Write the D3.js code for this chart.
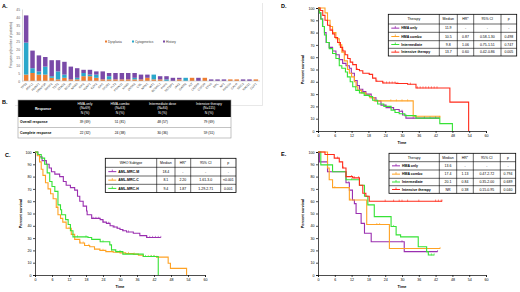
<!DOCTYPE html>
<html>
<head>
<meta charset="utf-8">
<script src="https://cdn.jsdelivr.net/npm/d3@7"></script>
<style>
  body { margin: 0; background: #fff; }
  svg { font-family: "Liberation Sans", Arial, sans-serif; display: block; }
</style>
</head>
<body>
<div id="chart"></div>
<script>
// ---------- data : panel A ----------
const genes = ["TP53","ASXL1","RUNX1","DNMT3A","SRSF2","TET2","STAG2","BCOR","NRAS","IDH2","U2AF1","EZH2","IDH1","SF3B1","FLT3","PTPN11","KRAS","ZRSR2","CBL","NPM1","WT1","BCORL1","PHF6","SETBP1","JAK2","GATA2","KIT","CEBPA","CSF3R","ETV6","MPL","NF1","PPM1D","CALR","SMC3","RAD21","CUX1"];
const dysplasia    = [4,5,4,4,2,1,2,1,1,3,3,2,1,1,1,1,1,1,1,2,1,1,0,0,1,0,2,0,2,0,0,0,1,1,0,0,1];
const cytogenetics = [20,3,2,5,1,5,2,0,1,2,1,2,0,2,0,0,0,1,0,0,3,0,1,0,0,2,0,0,0,0,0,0,0,0,0,0,0];
const history      = [17,11,10,6,10,7,8,8,6,2,3,2,5,2,4,4,4,3,3,2,0,2,2,2,1,0,0,2,0,1,1,1,0,0,1,1,0];
const stackKeys = ["Dysplasia","Cytogenetics","History"];
const yTicksA = d3.range(0, 46, 5);

// ---------- data : panel B ----------
const respHeader = ["Response", "HMA-only\n(N=69)\nN (%)", "HMA-combo\n(N=63)\nN (%)", "Intermediate dose\n(N=84)\nN (%)", "Intensive therapy\n(N=115)\nN (%)"];
const overallResp  = ["Overall response", "39 (69)", "51 (81)", "48 (57)", "79 (69)"];
const completeResp = ["Complete response", "22 (32)", "24 (38)", "30 (36)", "59 (51)"];

// ---------- data : KM curves, [months, % surviving] ----------
const kmTicksX = d3.range(0, 61, 6);
const kmTicksY = d3.range(0, 101, 10);

const mrcM = [[0,100],[1,98],[1.6,96],[2.5,93],[4,90],[5,87],[5.8,84],[7,82],[8.7,80],[10,76],[11,73],[12.5,71],[14,69],[15,64],[15.8,60],[17,56],[18.2,52],[18.4,49],[20,46],[23,45],[24,43],[25.2,42],[26.5,40],[27.6,39],[29,38],[30,37],[31,36],[32.3,35],[34.7,34],[37,32],[39.4,30.5],[44.4,30.5]];
const mrcC = [[0,100],[0.8,97],[1.6,92],[2.2,86],[2.8,81],[3.7,75],[4.6,70],[5.5,66],[6.4,62],[7.5,55],[8.1,49],[9,46],[9.8,43],[11,38],[12.8,33],[14,29],[15.8,26],[17.5,24],[19.3,23],[21,21],[22.9,20],[25,19],[27.6,18.5],[30,18],[32,17.5],[34.7,17],[36.5,16],[38.2,15],[42.9,14.5],[47,9.5],[47.8,5.4],[53.5,0]];
const mrcH = [[0,100],[1,98],[2.2,95],[3.4,90],[4.3,83],[5.2,76],[6,72],[7,68],[8.1,57],[9,53],[9.4,49],[10.8,45],[11.7,41],[12.5,36],[13.4,31],[18.7,30.5],[20,29],[23,27],[26.4,24.5],[27,20.4],[28.5,19],[31,17],[38.2,15],[43.5,0]];
const censorM = [20.5,21.5,22.5,24,26,28,29,31,33,39.5,40.5,41.5,42.5,43.5,44.4];
const censorC = [8,12,16,17,19,21,24,27,29,31,33,35,40,41,42,43];
const censorH = [15,18,24,30,39,41,42];

const hmaOnlyD = [[0,100],[0.5,96],[1,91],[1.7,85],[2.3,80],[2.9,72],[4,68],[5.2,65],[6.4,62],[7.6,58],[8.8,55],[10,53],[11.2,51],[11.9,47],[13,41],[14,37],[14.8,34],[16,32],[17.1,30],[19,27],[20.7,24.5],[22.5,21],[24.3,19],[27,17.5],[29,16],[30.2,13],[31.4,10.5],[43.3,10.5]];
const hmaComboD = [[0,100],[2.5,96],[3.4,90],[4.3,85],[5.2,80],[6.4,75],[7.6,70],[8.5,64],[9.4,57],[10.5,50],[11.2,47],[12,44],[13,40],[13.6,36],[14.2,33],[15.5,31],[17.1,29],[18.5,27],[20.1,24.5],[34,12],[43.5,11]];
const intermediateD = [[0,100],[0.5,96],[1,91],[1.6,85],[2.3,78],[3,72],[4,67],[5.2,63],[6.4,59],[7.6,53],[8.5,51],[9.8,48],[10.5,44],[11.5,40],[12.4,36],[13.5,33],[14.8,31],[16.5,29],[18.3,28],[19.5,25],[21.3,22],[23.5,20],[26.1,17],[27.5,15],[29,14],[31,12.5],[35,10.5],[43.5,6],[48,0]];
const intensiveD = [[0,100],[0.8,98],[1.7,94],[2.5,90],[3.4,86],[4.3,82],[5.2,79],[6,76],[7,72],[8,68],[8.8,65],[9.7,62],[10.6,59],[11.5,56],[12.4,54],[13.7,50],[14.8,49],[16,47],[18.3,46],[19.5,43],[20.7,40.5],[23.1,39],[27.9,38.6],[32,38],[35,35],[47.1,23.5],[53.8,0]];
const censorHmaOnlyD = [26,30,34,38,42,43.3];
const censorHmaComboD = [26,28,30,32,43.5];
const censorInterD = [38,40,42];
const censorIntensiveD = [5,9,14,21,23.5,24.5,25.5,26.5,27.5,28.5,33,35.5,36.5,37.5,38.5,39.5,40.5,41.5,42.5];

const hmaOnlyE = [[0,100],[0.5,92],[3.4,84],[10,75],[11.2,69],[12.3,61],[13,58],[13.6,50],[15.4,42],[16.6,34],[19,27],[30.8,19],[42.7,19]];
const hmaComboE = [[0,100],[3.4,87],[4,77.5],[5.2,71],[11.2,61],[17.4,41],[25.5,21.5],[43.6,21.5]];
const intermediateE = [[0,100],[1,89.5],[5.2,84],[10,77.5],[14.8,73],[16.6,64],[17.8,57],[20.1,47.5],[26.1,39.4],[27.9,32.6],[29.5,31],[35.8,23],[38.8,19],[39.4,16.3],[41.5,16.3]];
const intensiveE = [[0,100],[2.5,98],[5.8,95],[7.6,92],[8.8,87],[10,80],[12.4,79],[14.8,73],[16,66.5],[17.1,64],[18.3,60],[44.3,60]];
const censorHmaOnlyE = [11,30,42.7];
const censorHmaComboE = [6,11.5,21,22,43.6];
const censorInterE = [12,27,40.5,41.5];
const censorIntensiveE = [7,9,12,13,14.5,24,27,29,30,32,36,42,43,44,44.3];

// ---------- data : legend tables ----------
const tableHeadC = ["WHO Subtype","Median","HR*","95% CI","p"];
const rowsC = [
  ["AML-MRC-M","18.4","-","-","-"],
  ["AML-MRC-C","8.1","2.20","1.61-3.0","<0.001"],
  ["AML-MRC-H","9.4","1.87","1.29-2.71","0.001"]
];
const tableHeadDE = ["Therapy","Median","HR*","95% CI","p"];
const rowsD = [
  ["HMA only","11.9","-","-","-"],
  ["HMA combo","10.5","0.87","0.58-1.30","0.498"],
  ["Intermediate","9.8","1.06","0.75-1.51","0.747"],
  ["Intensive therapy","13.7","0.60","0.42-0.86","0.005"]
];
const rowsE = [
  ["HMA only","13.6","-","-","-"],
  ["HMA combo","17.4","1.13","0.47-2.72","0.794"],
  ["Intermediate","20.1","0.84","0.35-2.00","0.689"],
  ["Intensive therapy","NR","0.38","0.15-0.95","0.040"]
];

// ---------- colours ----------
const stackColors = ["#ED7D31", "#2BA7CB", "#7A4AA8"];
const purple = "#9A2FB0", orange = "#FFA224", green = "#36E236", red = "#FF2A1A";

const width = 520, height = 292;
const svg = d3.select("#chart").append("svg")
  .attr("width", width).attr("height", height);

function panelLabel(txt, x, y) {
  svg.append("text").attr("x", x).attr("y", y)
    .attr("font-size", 5.5).attr("font-weight", "bold").text(txt);
}

// ================= Panel A =================
{
  const gA = svg.append("g");
  // faint chart frame (right + bottom)
  gA.append("path").attr("d", "M15,105.5H262.5V3")
    .attr("fill", "none").attr("stroke", "#d9d9d9").attr("stroke-width", 0.6);

  let x = d3.scaleBand().domain(genes).range([22, 260]).padding(0.3);
  let y = d3.scaleLinear().domain([0, 45]).range([81, 9]);

  let rows = genes.map((g, i) => ({ gene: g, Dysplasia: dysplasia[i], Cytogenetics: cytogenetics[i], History: history[i] }));
  let series = d3.stack().keys(stackKeys)(rows);

  gA.append("g")
    .attr("transform", "translate(22,0)")
    .call(d3.axisLeft(y).tickValues(yTicksA).tickSize(0).tickPadding(2))
    .call(g => g.select(".domain").attr("stroke", "#bfbfbf").attr("stroke-width", 0.6))
    .call(g => g.selectAll("text").attr("font-size", 3.3).attr("fill", "#595959").attr("font-family", "Liberation Sans, Arial"));

  series.forEach((s, k) => {
    gA.append("g").attr("fill", stackColors[k])
      .selectAll("rect").data(s).join("rect")
      .attr("x", d => x(d.data.gene))
      .attr("y", d => y(d[1]))
      .attr("width", x.bandwidth())
      .attr("height", d => y(d[0]) - y(d[1]));
  });

  gA.append("line").attr("x1", 22).attr("x2", 260).attr("y1", 81).attr("y2", 81)
    .attr("stroke", "#bfbfbf").attr("stroke-width", 0.6);

  gA.append("g").selectAll("text").data(genes).join("text")
    .attr("transform", d => `translate(${x(d) + x.bandwidth() / 2 + 1},84) rotate(-45)`)
    .attr("text-anchor", "end")
    .attr("font-size", 3)
    .attr("fill", "#404040")
    .text(d => d);

  gA.append("text")
    .attr("transform", "translate(12,45) rotate(-90)")
    .attr("text-anchor", "middle").attr("font-size", 3.3).attr("fill", "#404040")
    .text("Frequency (number of patients)");

  // legend
  let legX = [105, 132, 163];
  stackKeys.forEach((k, i) => {
    gA.append("rect").attr("x", legX[i]).attr("y", 40.5).attr("width", 2).attr("height", 2).attr("fill", stackColors[i]);
    gA.append("text").attr("x", legX[i] + 3).attr("y", 42.6).attr("font-size", 3.2).attr("fill", "#404040").text(k);
  });
  panelLabel("A.", 2, 8);
}

// ================= Panel B =================
{
  const gB = svg.append("g");
  const cols = [18, 68, 102, 138, 187, 231];
  const rowY = [100, 117, 127.5, 138];
  gB.append("rect").attr("x", cols[0]).attr("y", rowY[0]).attr("width", cols[5] - cols[0]).attr("height", rowY[1] - rowY[0]).attr("fill", "#000");
  gB.append("rect").attr("x", cols[0]).attr("y", rowY[0]).attr("width", cols[5] - cols[0]).attr("height", rowY[3] - rowY[0])
    .attr("fill", "none").attr("stroke", "#9a9a9a").attr("stroke-width", 0.6);
  gB.append("line").attr("x1", cols[0]).attr("x2", cols[5]).attr("y1", rowY[2]).attr("y2", rowY[2]).attr("stroke", "#9a9a9a").attr("stroke-width", 0.6);

  respHeader.forEach((h, i) => {
    let lines = h.split("\n");
    let cx = (cols[i] + cols[i + 1]) / 2;
    let t = gB.append("text").attr("text-anchor", "middle").attr("font-size", 3.4).attr("fill", "#fff").attr("font-weight", i === 0 ? "bold" : "normal");
    let y0 = i === 0 ? 109.7 : 104.5;
    lines.forEach((l, j) => t.append("tspan").attr("x", cx).attr("y", y0 + j * 4.5).text(l));
  });
  [overallResp, completeResp].forEach((row, r) => {
    let yy = (rowY[r + 1] + rowY[r + 2]) / 2 + 1.2;
    row.forEach((v, i) => {
      gB.append("text")
        .attr("x", i === 0 ? cols[0] + 2 : (cols[i] + cols[i + 1]) / 2)
        .attr("y", yy)
        .attr("text-anchor", i === 0 ? "start" : "middle")
        .attr("font-size", 3.4)
        .attr("font-weight", i === 0 ? "bold" : "normal")
        .text(v);
    });
  });
  panelLabel("B.", 2, 104);
}

// ================= KM helpers =================
function stepVal(data, t) {
  let v = data[0][1];
  for (const [tt, s] of data) if (tt <= t) v = s;
  return v;
}

function drawKM(opt) {
  const g = svg.append("g");
  let x = d3.scaleLinear().domain([0, 60]).range(opt.xr);
  let y = d3.scaleLinear().domain([0, 100]).range(opt.yr);

  g.append("g").attr("transform", `translate(${opt.xr[0]},0)`)
    .call(d3.axisLeft(y).tickValues(kmTicksY).tickSize(2).tickPadding(1.5))
    .call(a => a.selectAll("text").attr("font-size", 3.6).attr("font-family", "Liberation Sans, Arial"))
    .call(a => a.selectAll("line, path").attr("stroke-width", 0.7));
  g.append("g").attr("transform", `translate(0,${opt.yr[0]})`)
    .call(d3.axisBottom(x).tickValues(kmTicksX).tickSize(2).tickPadding(1.5))
    .call(a => a.selectAll("text").attr("font-size", 3.6).attr("font-family", "Liberation Sans, Arial"))
    .call(a => a.selectAll("line, path").attr("stroke-width", 0.7));

  let line = d3.line().x(d => x(d[0])).y(d => y(d[1])).curve(d3.curveStepAfter);
  opt.series.forEach(s => {
    g.append("path").datum(s.data)
      .attr("fill", "none").attr("stroke", s.color).attr("stroke-width", 1.1)
      .attr("d", line);
    g.append("g").selectAll("line").data(s.censor).join("line")
      .attr("x1", d => x(d)).attr("x2", d => x(d))
      .attr("y1", d => y(stepVal(s.data, d)) - 1.6)
      .attr("y2", d => y(stepVal(s.data, d)) + 0.4)
      .attr("stroke", s.color).attr("stroke-width", 0.6);
  });

  g.append("text")
    .attr("transform", `translate(${opt.ylabX},${(opt.yr[0] + opt.yr[1]) / 2}) rotate(-90)`)
    .attr("text-anchor", "middle").attr("font-size", 3.8).attr("font-weight", "bold")
    .text("Percent survival");
  g.append("text").attr("x", (opt.xr[0] + opt.xr[1]) / 2).attr("y", opt.yr[0] + 12.5)
    .attr("text-anchor", "middle").attr("font-size", 3.8).attr("font-weight", "bold")
    .text("Time");

  // legend table
  const t = opt.table;
  const tb = svg.append("g");
  const cx = t.cols, ry = t.rows;
  tb.append("rect").attr("x", cx[0]).attr("y", ry[0])
    .attr("width", cx[cx.length - 1] - cx[0]).attr("height", ry[ry.length - 1] - ry[0])
    .attr("fill", "#fff").attr("stroke", "#000").attr("stroke-width", 0.8);
  cx.slice(1, -1).forEach(c => tb.append("line").attr("x1", c).attr("x2", c).attr("y1", ry[0]).attr("y2", ry[ry.length - 1]).attr("stroke", "#000").attr("stroke-width", 0.6));
  ry.slice(1, -1).forEach(r => tb.append("line").attr("x1", cx[0]).attr("x2", cx[cx.length - 1]).attr("y1", r).attr("y2", r).attr("stroke", "#000").attr("stroke-width", 0.6));

  const allRows = [t.head].concat(t.body);
  allRows.forEach((row, r) => {
    let yy = (ry[r] + ry[r + 1]) / 2 + 1.3;
    row.forEach((v, c) => {
      let isLabel = c === 0 && r > 0;
      let tx = isLabel ? cx[0] + 13 : (cx[c] + cx[c + 1]) / 2;
      tb.append("text").attr("x", tx).attr("y", yy)
        .attr("text-anchor", isLabel ? "start" : "middle")
        .attr("font-size", 3.5)
        .attr("font-weight", isLabel ? "bold" : "normal")
        .text(v);
    });
    if (r > 0) {
      let col = opt.series[r - 1].color;
      let ym = (ry[r] + ry[r + 1]) / 2;
      tb.append("line").attr("x1", cx[0] + 3).attr("x2", cx[0] + 11).attr("y1", ym).attr("y2", ym).attr("stroke", col).attr("stroke-width", 1);
      tb.append("line").attr("x1", cx[0] + 7).attr("x2", cx[0] + 7).attr("y1", ym - 2).attr("y2", ym).attr("stroke", col).attr("stroke-width", 0.8);
    }
  });
}

// ================= Panel C =================
drawKM({
  xr: [35, 205], yr: [275, 152], ylabX: 22,
  series: [
    { data: mrcM, censor: censorM, color: purple },
    { data: mrcC, censor: censorC, color: orange },
    { data: mrcH, censor: censorH, color: green }
  ],
  table: { cols: [105.3, 156.7, 175, 190.7, 220.7, 236], rows: [158.3, 167.3, 176, 184.3, 192.5], head: tableHeadC, body: rowsC }
});
panelLabel("C.", 5, 157);

// ================= Panel D =================
drawKM({
  xr: [318, 486], yr: [131, 8], ylabX: 304,
  series: [
    { data: hmaOnlyD, censor: censorHmaOnlyD, color: purple },
    { data: hmaComboD, censor: censorHmaComboD, color: orange },
    { data: intermediateD, censor: censorInterD, color: green },
    { data: intensiveD, censor: censorIntensiveD, color: red }
  ],
  table: { cols: [388.3, 439.3, 457.3, 473.7, 501, 516.7], rows: [14.3, 24, 32.3, 40.7, 48.3, 56], head: tableHeadDE, body: rowsD }
});
panelLabel("D.", 281, 8);

// ================= Panel E =================
drawKM({
  xr: [318, 486], yr: [275, 152], ylabX: 304,
  series: [
    { data: hmaOnlyE, censor: censorHmaOnlyE, color: purple },
    { data: hmaComboE, censor: censorHmaComboE, color: orange },
    { data: intermediateE, censor: censorInterE, color: green },
    { data: intensiveE, censor: censorIntensiveE, color: red }
  ],
  table: { cols: [389, 439.3, 456.7, 473.3, 500.3, 515.7], rows: [153.3, 161.7, 170, 178.3, 185.7, 193.3], head: tableHeadDE, body: rowsE }
});
panelLabel("E.", 281, 156);
</script>
</body>
</html>
